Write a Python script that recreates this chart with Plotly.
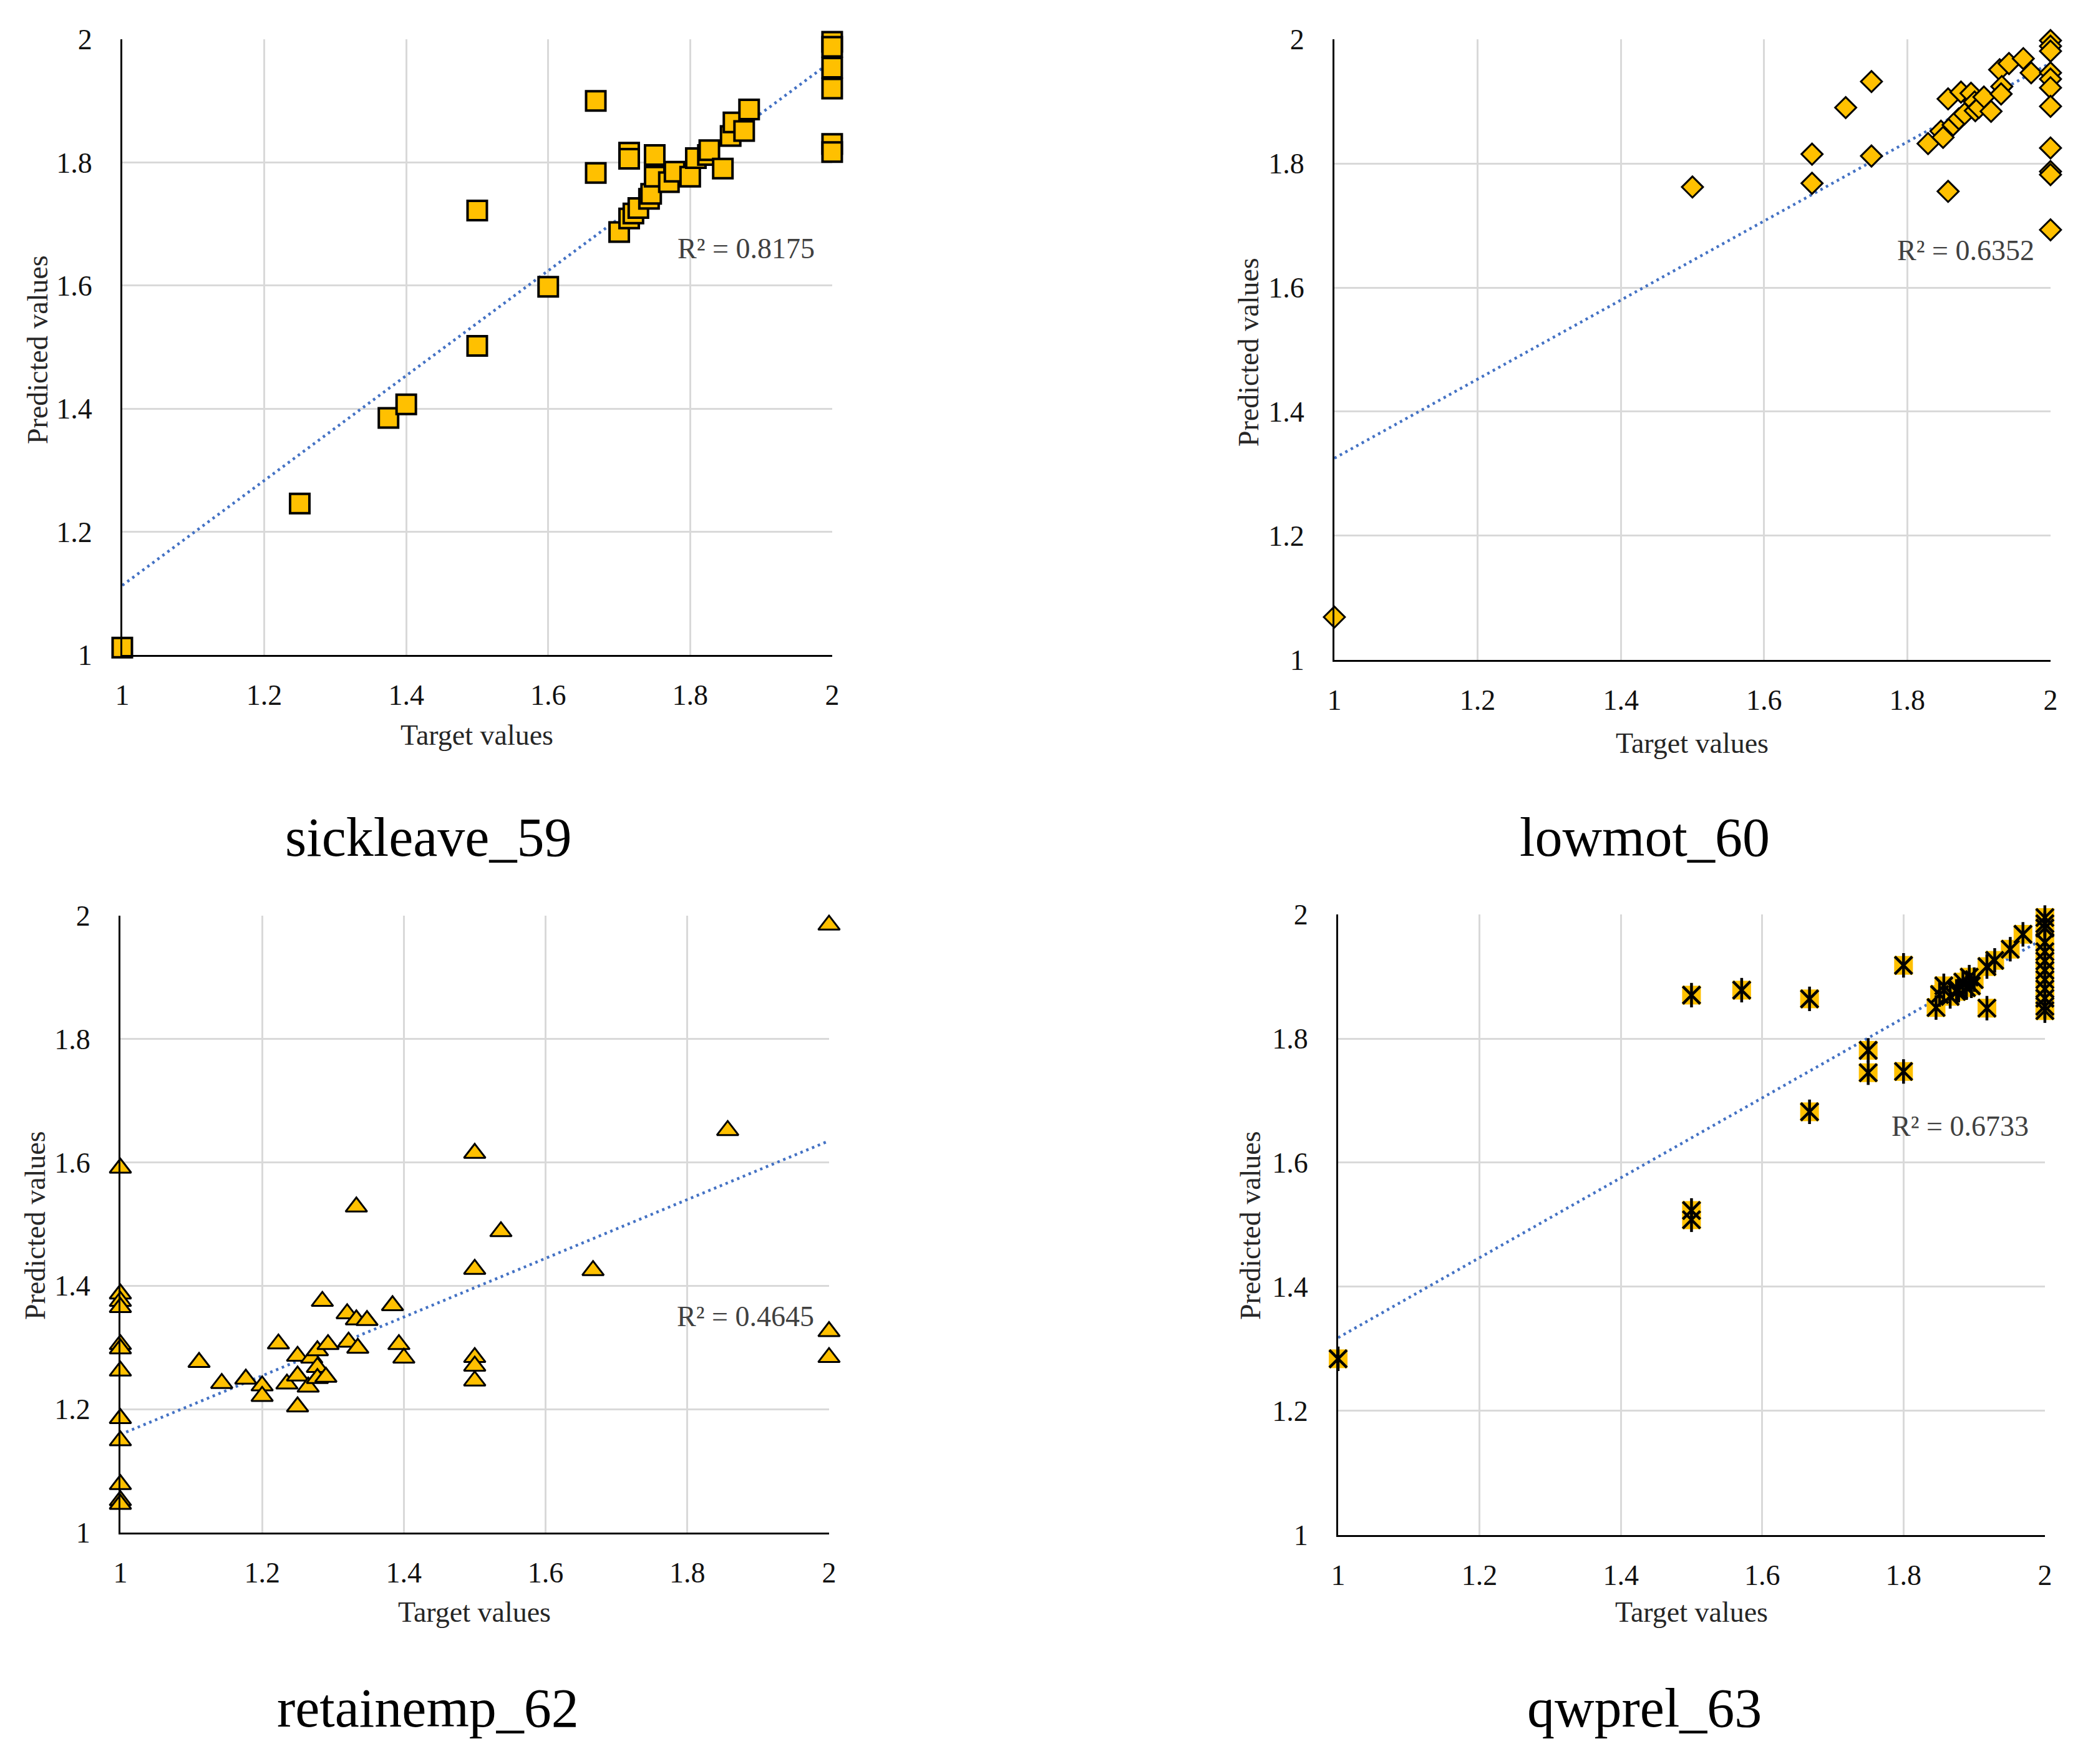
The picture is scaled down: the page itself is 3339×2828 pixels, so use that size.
import plotly.graph_objects as go

# ---- data (target vs predicted) ----
tick_vals = [1, 1.2, 1.4, 1.6, 1.8, 2]
tick_text = ["1", "1.2", "1.4", "1.6", "1.8", "2"]

sick_x = [1.0, 1.25, 1.375, 1.4, 1.5, 1.5, 1.6, 1.667, 1.667, 1.7, 1.714, 1.714, 1.714,
          1.72, 1.727, 1.742, 1.745, 1.75, 1.75, 1.77, 1.778, 1.8, 1.808, 1.825, 1.827,
          1.846, 1.857, 1.861, 1.876, 1.883, 2, 2, 2, 2, 2, 2]
sick_y = [1.012, 1.246, 1.385, 1.407, 1.502, 1.722, 1.598, 1.900, 1.783, 1.687, 1.709, 1.816, 1.806,
          1.717, 1.726, 1.741, 1.749, 1.812, 1.777, 1.768, 1.785, 1.777, 1.807, 1.812, 1.820,
          1.790, 1.843, 1.865, 1.851, 1.886, 1.996, 1.988, 1.954, 1.920, 1.830, 1.817]
sick_trend = [1.113, 1.965]

low_x = [1, 1.5, 1.667, 1.667, 1.714, 1.75, 1.75, 1.857, 1.829, 1.847, 1.85, 1.857, 1.864,
         1.872, 1.875, 1.88, 1.889, 1.894, 1.895, 1.9, 1.907, 1.917, 1.929, 1.932, 1.931,
         1.942, 1.962, 1.973, 2, 2, 2, 2, 2, 2, 2, 2, 2, 2, 2]
low_y = [1.069, 1.762, 1.815, 1.768, 1.890, 1.932, 1.812, 1.755, 1.832, 1.852, 1.842, 1.904, 1.862,
         1.872, 1.915, 1.880, 1.913, 1.899, 1.885, 1.890, 1.907, 1.884, 1.951, 1.924, 1.912,
         1.961, 1.969, 1.946, 1.998, 1.989, 1.981, 1.946, 1.936, 1.922, 1.892, 1.825, 1.787,
         1.782, 1.693]
low_trend = [1.325, 1.962]

ret_x = [1, 1, 1, 1, 1, 1, 1, 1, 1, 1, 1, 1,
         1.111, 1.143, 1.177, 1.2, 1.2, 1.223, 1.235, 1.25, 1.25, 1.25, 1.265, 1.27, 1.278,
         1.278, 1.278, 1.29, 1.285, 1.293, 1.32, 1.322, 1.333, 1.333, 1.335, 1.348, 1.384,
         1.393, 1.4, 1.5, 1.5, 1.5, 1.5, 1.5, 1.537, 1.667, 1.857, 2, 2, 2]
ret_y = [1.591, 1.387, 1.375, 1.365, 1.305, 1.298, 1.262, 1.185, 1.149, 1.078, 1.052, 1.046,
         1.276, 1.242, 1.249, 1.238, 1.221, 1.306, 1.241, 1.286, 1.254, 1.204, 1.236, 1.283, 1.295,
         1.268, 1.250, 1.252, 1.375, 1.305, 1.355, 1.309, 1.528, 1.345, 1.299, 1.344, 1.368,
         1.305, 1.283, 1.615, 1.427, 1.284, 1.270, 1.246, 1.488, 1.425, 1.652, 1.985, 1.326, 1.284]
ret_trend = [1.159, 1.635]

qw_x = [1, 1.5, 1.5, 1.5, 1.571, 1.667, 1.667, 1.75, 1.75, 1.8, 1.8, 1.846, 1.851, 1.857,
        1.866, 1.875, 1.878, 1.884, 1.889, 1.893, 1.896, 1.9, 1.918, 1.918, 1.929, 1.951,
        1.969, 2, 2, 2, 2, 2, 2, 2, 2, 2, 2, 2, 2]
qw_y = [1.284, 1.870, 1.523, 1.508, 1.878, 1.864, 1.682, 1.781, 1.745, 1.918, 1.747, 1.850, 1.871, 1.885,
        1.868, 1.876, 1.878, 1.891, 1.882, 1.899, 1.885, 1.895, 1.849, 1.916, 1.926, 1.944,
        1.968, 1.995, 1.985, 1.978, 1.955, 1.940, 1.925, 1.910, 1.895, 1.880, 1.865, 1.852, 1.845]
qw_trend = [1.318, 1.962]

titles = ["sickleave_59", "lowmot_60", "retainemp_62", "qwprel_63"]
r2_text = ["R² = 0.8175", "R² = 0.6352", "R² = 0.4645", "R² = 0.6733"]
r2_pos = [(1.879, 1.66), (1.882, 1.66), (1.882, 1.35), (1.88, 1.659)]

W, H = 3339, 2828
FONT = "Liberation Serif"
YELLOW = "#FFC000"

# plot area boxes in paper coords (x0, x1, y0, y1)
boxes = [
    (0.0587, 0.3995, 0.6287, 0.9777),
    (0.6406, 0.9844, 0.6259, 0.9777),
    (0.0578, 0.3980, 0.1312, 0.4809),
    (0.6424, 0.9817, 0.1298, 0.4816),
]

fig = go.Figure()


def axis_style(domain, anchor, is_x):
    return dict(
        domain=list(domain), anchor=anchor, range=[1, 2], automargin=False,
        tickmode="array", tickvals=tick_vals, ticktext=tick_text,
        showgrid=True, gridcolor="#d9d9d9", gridwidth=3,
        showline=True, linecolor="black", linewidth=3,
        zeroline=False, ticks="outside", ticklen=22 if is_x else 36,
        tickcolor="rgba(0,0,0,0)",
        tickfont=dict(family=FONT, size=46, color="#111111"),
        fixedrange=True,
    )


def add_panel(i, xs, ys, trend, symbol, size, line_w):
    sfx = "" if i == 0 else str(i + 1)
    xa, ya = "x" + sfx, "y" + sfx
    x0, x1, y0, y1 = boxes[i]
    fig.update_layout(**{
        "xaxis" + sfx: axis_style((x0, x1), ya, True),
        "yaxis" + sfx: axis_style((y0, y1), xa, False),
    })
    # linear trend line (dotted blue, like the excel default)
    fig.add_trace(go.Scatter(x=[1, 2], y=trend, mode="lines", xaxis=xa, yaxis=ya,
                             line=dict(color="#4472C4", width=4.5, dash="4px,6px"),
                             hoverinfo="skip"))
    if symbol == "star":
        # yellow square with black asterisk on top
        fig.add_trace(go.Scatter(x=xs, y=ys, mode="markers", xaxis=xa, yaxis=ya, cliponaxis=False,
                                 marker=dict(symbol="square", size=size, color=YELLOW,
                                             line=dict(width=0))))
        for s in ["x-thin", "line-ns"]:
            fig.add_trace(go.Scatter(x=xs, y=ys, mode="markers", xaxis=xa, yaxis=ya, cliponaxis=False,
                                     marker=dict(symbol=s, size=size - 2,
                                                 line=dict(width=line_w, color="black"))))
    else:
        fig.add_trace(go.Scatter(x=xs, y=ys, mode="markers", xaxis=xa, yaxis=ya, cliponaxis=False,
                                 marker=dict(symbol=symbol, size=size, color=YELLOW,
                                             line=dict(width=line_w, color="black"))))

    fig.add_annotation(x=r2_pos[i][0], y=r2_pos[i][1], xref=xa, yref=ya, text=r2_text[i],
                       xanchor="center", yanchor="middle", showarrow=False,
                       font=dict(family=FONT, size=46, color="#404040"))


panels = [
    (sick_x, sick_y, sick_trend, "square", 31, 4),
    (low_x, low_y, low_trend, "diamond", 26, 3),
    (ret_x, ret_y, ret_trend, "triangle-up", 30, 3),
    (qw_x, qw_y, qw_trend, "star", 30, 4.5),
]
for i, p in enumerate(panels):
    add_panel(i, *p)

# axis titles and panel captions placed as annotations
target_y = [1 - 1178 / H, 1 - 1191 / H, 1 - 2584 / H, 1 - 2584 / H]
pred_x = [60 / W, 2001 / W, 56 / W, 2004 / W]
pred_y = [1 - 561 / H, 1 - 565 / H, 1 - 1965 / H, 1 - 1965 / H]
cap_x = [686 / W, 2636 / W, 686 / W, 2636 / W]
cap_y = [1 - 1342 / H, 1 - 1342 / H, 1 - 2738 / H, 1 - 2738 / H]

for i in range(4):
    x0, x1, y0, y1 = boxes[i]
    fig.add_annotation(x=(x0 + x1) / 2, y=target_y[i], xref="paper", yref="paper",
                       xanchor="center", yanchor="middle",
                       text="Target values", showarrow=False,
                       font=dict(family=FONT, size=46, color="#262626"))
    fig.add_annotation(x=pred_x[i], y=pred_y[i], xref="paper", yref="paper",
                       xanchor="center", yanchor="middle",
                       text="Predicted values", showarrow=False, textangle=-90,
                       font=dict(family=FONT, size=46, color="#262626"))
    fig.add_annotation(x=cap_x[i], y=cap_y[i], xref="paper", yref="paper",
                       xanchor="center", yanchor="middle",
                       text=titles[i], showarrow=False,
                       font=dict(family=FONT, size=88, color="black"))

fig.update_layout(width=W, height=H, margin=dict(l=0, r=0, t=0, b=0, autoexpand=False),
                  paper_bgcolor="white", plot_bgcolor="white", showlegend=False)

# drop the default 8px page margin so the figure sits at the window corner
fig.write_html("out.html", config={"displayModeBar": False},
               post_script="document.body.style.margin='0';")
